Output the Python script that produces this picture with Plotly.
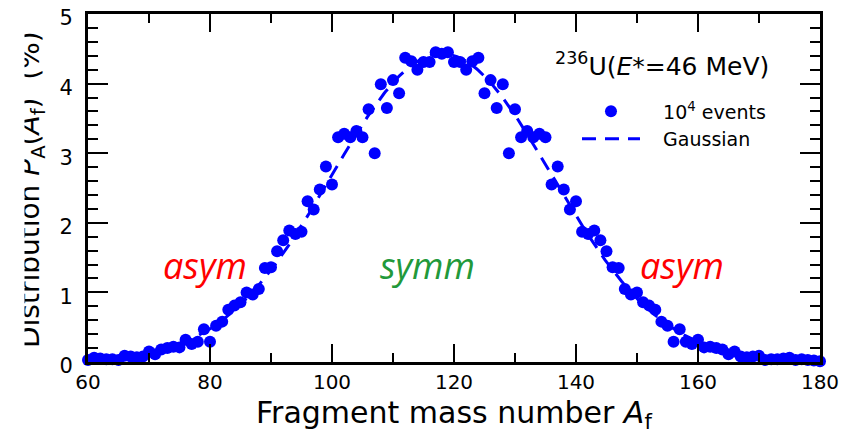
import numpy as np
import plotly.graph_objects as go

# ---- data ----
mass_numbers = list(range(60, 181))
yield_pct = [
    0.03, 0.06, 0.05, 0.04, 0.04, 0.03, 0.09, 0.08, 0.07, 0.08,   # 60-69
    0.15, 0.11, 0.18, 0.20, 0.22, 0.21, 0.32, 0.26, 0.29, 0.47,   # 70-79
    0.29, 0.52, 0.58, 0.75, 0.81, 0.86, 1.00, 0.97, 1.05, 1.35,   # 80-89
    1.36, 1.59, 1.75, 1.89, 1.84, 1.87, 2.31, 2.19, 2.48, 2.81,   # 90-99
    2.55, 3.23, 3.28, 3.23, 3.32, 3.23, 3.63, 3.00, 3.99, 3.65,   # 100-109
    4.05, 3.86, 4.37, 4.32, 4.20, 4.31, 4.31, 4.45, 4.43, 4.45,   # 110-119
    4.31, 4.31, 4.20, 4.32, 4.37, 3.86, 4.05, 3.65, 3.99, 3.00,   # 120-129
    3.63, 3.23, 3.32, 3.23, 3.28, 3.23, 2.55, 2.81, 2.48, 2.19,   # 130-139
    2.31, 1.87, 1.84, 1.89, 1.75, 1.59, 1.36, 1.35, 1.05, 0.97,   # 140-149
    1.00, 0.86, 0.81, 0.75, 0.58, 0.52, 0.29, 0.47, 0.29, 0.26,   # 150-159
    0.32, 0.21, 0.22, 0.20, 0.18, 0.11, 0.15, 0.08, 0.07, 0.08,   # 160-169
    0.09, 0.03, 0.04, 0.04, 0.05, 0.06, 0.03, 0.04, 0.03, 0.02,   # 170-179
    0.01,                                                         # 180
]

# Gaussian fit parameters
gauss_mean = 118.0
gauss_sigma = 18.0
gauss_peak = 4.43

x_ticks = [60, 80, 100, 120, 140, 160, 180]
y_ticks = [0, 1, 2, 3, 4, 5]

region_labels = ["asym", "symm", "asym"]
region_x = [79.2, 115.7, 157.4]
region_y = [1.39, 1.39, 1.39]
region_colors = ["#ff0000", "#22993a", "#ff0000"]

# ---- figure ----
gx = np.linspace(x_ticks[0], x_ticks[-1], 481)
gy = gauss_peak * np.exp(-(gx - gauss_mean) ** 2 / (2 * gauss_sigma ** 2))

fig = go.Figure()
fig.add_trace(go.Scatter(
    x=mass_numbers, y=yield_pct, mode="markers",
    marker=dict(color="#0000ff", size=12),
    name="&nbsp;&nbsp;&nbsp;10<sup>4</sup> events", cliponaxis=False,
))
fig.add_trace(go.Scatter(
    x=gx, y=gy, mode="lines",
    line=dict(color="#0000ff", width=3, dash="14px,9px"),
    name="&nbsp;&nbsp;&nbsp;Gaussian",
))

axis_font = dict(family="DejaVu Sans", size=20, color="black")

fig.update_xaxes(
    range=[60, 180], tickvals=x_ticks, ticks="inside", ticklen=18, tickwidth=2,
    tickcolor="black", showline=True, linewidth=3, linecolor="black",
    mirror="allticks", showgrid=False, zeroline=False, tickfont=axis_font,
    ticklabeloverflow="allow", automargin=False,
    minor=dict(dtick=10, ticks="inside", ticklen=9, tickwidth=2, tickcolor="black", showgrid=False),
)
fig.update_yaxes(
    range=[0, 5], tickvals=y_ticks, ticks="inside", ticklen=20, tickwidth=2,
    tickcolor="black", showline=True, linewidth=3, linecolor="black",
    mirror="allticks", showgrid=False, zeroline=False,
    tickfont=dict(family="DejaVu Sans", size=21, color="black"),
    ticklabeloverflow="allow", ticklabelstandoff=8, ticklabelshift=4, automargin=False,
    minor=dict(dtick=0.2, ticks="inside", ticklen=10, tickwidth=2, tickcolor="black", showgrid=False),
)

annotations = []
for t, xv, yv, c in zip(region_labels, region_x, region_y, region_colors):
    annotations.append(dict(
        text=f"<i>{t}</i>", x=xv, y=yv, xref="x", yref="y", showarrow=False,
        font=dict(family="Open Sans", size=36, color=c),
    ))
annotations.append(dict(
    text="<sup>236</sup>U(<i>E</i>*=46 MeV)", x=154.1, y=4.28, xref="x", yref="y",
    showarrow=False, font=dict(family="DejaVu Sans", size=25, color="black"),
))
annotations.append(dict(
    text="Fragment mass number <i>A</i><sub>f</sub>", x=0.5, y=0, xref="paper", yref="paper",
    yanchor="top", yshift=-31, showarrow=False,
    font=dict(family="DejaVu Sans", size=30, color="black"),
))
annotations.append(dict(
    text="Distribution <i>P</i><sub>A</sub>(<i>A</i><sub>f</sub>)  (%)",
    x=0, y=0.5, xref="paper", yref="paper", xanchor="center", yanchor="middle",
    xshift=-57, yshift=-2, textangle=-90, showarrow=False,
    font=dict(family="DejaVu Sans", size=28, color="black"),
))
annotations.append(dict(
    text=" ", x=0, y=0.5, xref="paper", yref="paper", xanchor="left", yanchor="middle",
    xshift=-80, width=15, height=424, bgcolor="white", borderpad=0, showarrow=False,
))

fig.update_layout(
    width=840, height=424,
    margin=dict(l=80, r=28, t=6, b=70, autoexpand=False),
    paper_bgcolor="white", plot_bgcolor="white",
    showlegend=True,
    legend=dict(
        x=0.668, y=0.775, xanchor="left", yanchor="top",
        font=dict(family="DejaVu Sans", size=19, color="black"),
        bgcolor="rgba(0,0,0,0)", itemwidth=58,
    ),
    annotations=annotations,
)

fig.write_html("out.html")
